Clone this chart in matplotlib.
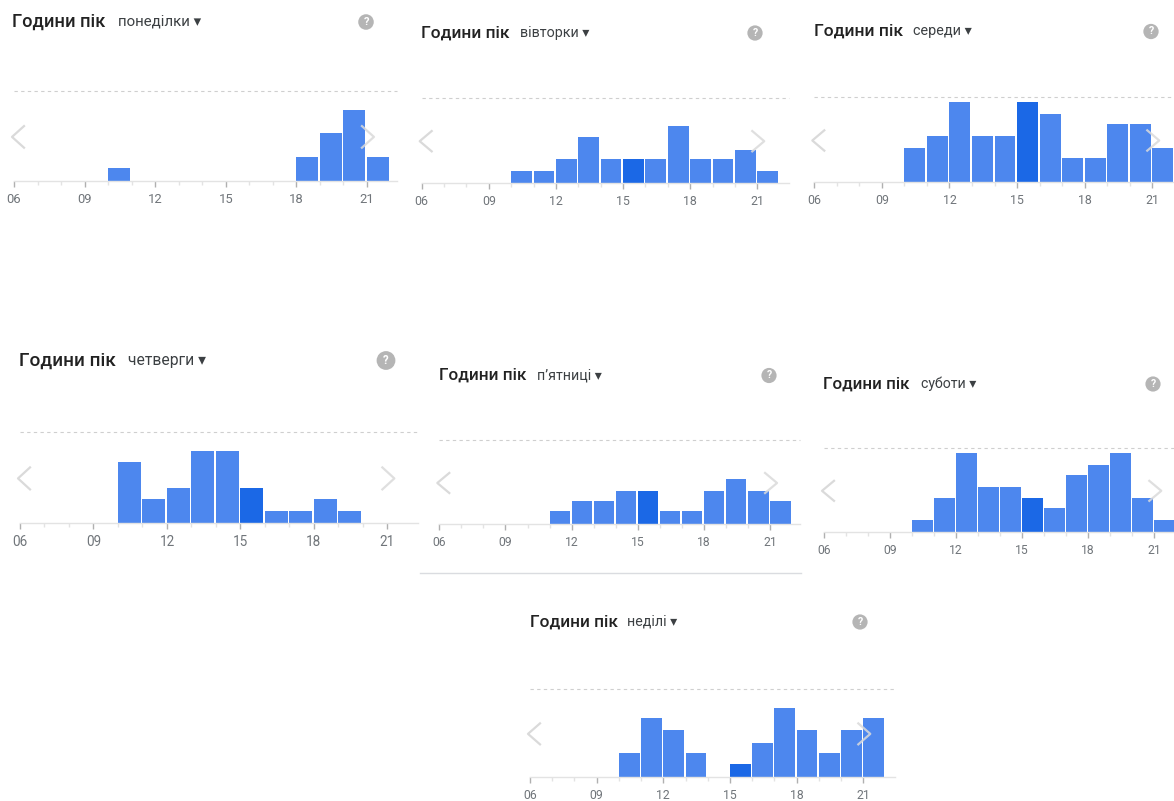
import matplotlib.pyplot as plt
from matplotlib.lines import Line2D

W, H = 1174, 801

hours = list(range(6, 22))
tick_hours = [6, 9, 12, 15, 18, 21]
tick_labels = ['06', '09', '12', '15', '18', '21']
current_hour = 15

day_names = ['понеділки', 'вівторки', 'середи', 'четверги', 'п’ятниці', 'суботи', 'неділі']
mon = [0, 0, 0, 0, 14, 0, 0, 0, 0, 0, 0, 0, 27, 53, 79, 27]
tue = [0, 0, 0, 0, 14, 14, 28, 54, 28, 28, 28, 67, 28, 28, 39, 14]
wed = [0, 0, 0, 0, 40, 54, 94, 54, 54, 94, 80, 28, 28, 68, 68, 40]
thu = [0, 0, 0, 0, 67, 27, 39, 79, 79, 39, 13, 13, 27, 13, 0, 0]
fri = [0, 0, 0, 0, 0, 15, 28, 28, 40, 40, 15, 15, 40, 54, 40, 28]
sat = [0, 0, 0, 0, 14, 40, 94, 54, 54, 40, 28, 68, 80, 94, 40, 14]
sun = [0, 0, 0, 0, 27, 67, 53, 27, 0, 14, 39, 79, 53, 27, 53, 67]
week = [mon, tue, wed, thu, fri, sat, sun]

# pixel layout of each screenshot panel:
# x of 06, px per hour, right end, baseline y, dashed y, title x, title y, day x, help x
layout = [
    (14.0, 23.53, 397, 181.0, 91.0, 12, 22, 118, 366),
    (421.7, 22.37, 789, 182.7, 98.0, 421, 33, 520, 755),
    (814.3, 22.53, 1174, 182.0, 97.3, 814, 31.5, 913, 1151),
    (20.0, 24.49, 418, 523.3, 431.7, 19, 360.5, 128, 386),
    (439.3, 22.05, 800, 524.0, 440.3, 439, 375.5, 537, 769),
    (824.0, 22.02, 1174, 531.7, 448.3, 823, 384, 921, 1153),
    (530.0, 22.22, 895, 776.7, 689.3, 530, 622, 627, 860),
]

BAR = '#4d87ee'
BAR_NOW = '#1b68e6'
FONT = ['Roboto', 'DejaVu Sans']


def fx(x):
    return x / W


def fy(y):
    return 1 - y / H


fig = plt.figure(figsize=(W / 100, H / 100), dpi=100)

for vals, day, (x06, pph, xend, base, dash, tx, ty, dx, qx) in zip(week, day_names, layout):
    # each screenshot was taken at a slightly different zoom
    s = pph / 22.4
    ax = fig.add_axes([fx(x06), fy(base), (xend - x06) / W, (base - dash) / H])
    ax.set_xlim(6, 6 + (xend - x06) / pph)
    ax.set_ylim(0, 100)
    colors = [BAR_NOW if h == current_hour else BAR for h in hours]
    ax.bar(hours, vals, width=0.93, align='edge', color=colors, linewidth=0, zorder=2)
    ax.axhline(100, color='#cfcfcf', ls=(0, (3, 3)), lw=0.8, clip_on=False)

    for sp in ['top', 'right', 'left']:
        ax.spines[sp].set_visible(False)
    ax.spines['bottom'].set_color('#e3e3e3')
    ax.spines['bottom'].set_linewidth(1)
    ax.set_yticks([])
    ax.set_xticks(tick_hours)
    ax.set_xticklabels(tick_labels, fontfamily=FONT, fontsize=8.9 * s, color='#70757a')
    ax.set_xticks(hours, minor=True)
    ax.tick_params(axis='x', which='major', length=4, width=1, color='#b0b0b0', pad=4.5)
    ax.tick_params(axis='x', which='minor', length=3, width=1, color='#e3e3e3')
    ax.patch.set_alpha(0)

    # carousel chevrons
    ax.plot([6 + 10 / pph, 6 - 2 / pph, 6 + 10 / pph], [61, 49, 37],
            color='#dadada', lw=1.6, clip_on=False, zorder=3)
    ax.plot([21 - 5 / pph, 21 + 7 / pph, 21 - 5 / pph], [61, 49, 37],
            color='#dadada', lw=1.6, clip_on=False, zorder=3, alpha=0.85)

    fig.text(fx(tx), fy(ty), 'Години пік', fontfamily=FONT, fontsize=12.5 * s,
             fontweight='medium', color='#222222', va='center', ha='left')
    fig.text(fx(dx), fy(ty), day + ' \u25be', fontfamily=FONT, fontsize=10.3 * s,
             color='#3c4043', va='center', ha='left')
    fig.text(fx(qx), fy(ty), '?', fontfamily=FONT, fontsize=7.6 * s, fontweight='bold',
             color='white', va='center', ha='center',
             bbox=dict(boxstyle='circle,pad=0.25', fc='#b5b5b5', ec='none'))

fig.add_artist(Line2D([fx(420), fx(801)], [fy(573), fy(573)], color='#dadce0', lw=1))

fig.savefig('out.png', dpi=100)
